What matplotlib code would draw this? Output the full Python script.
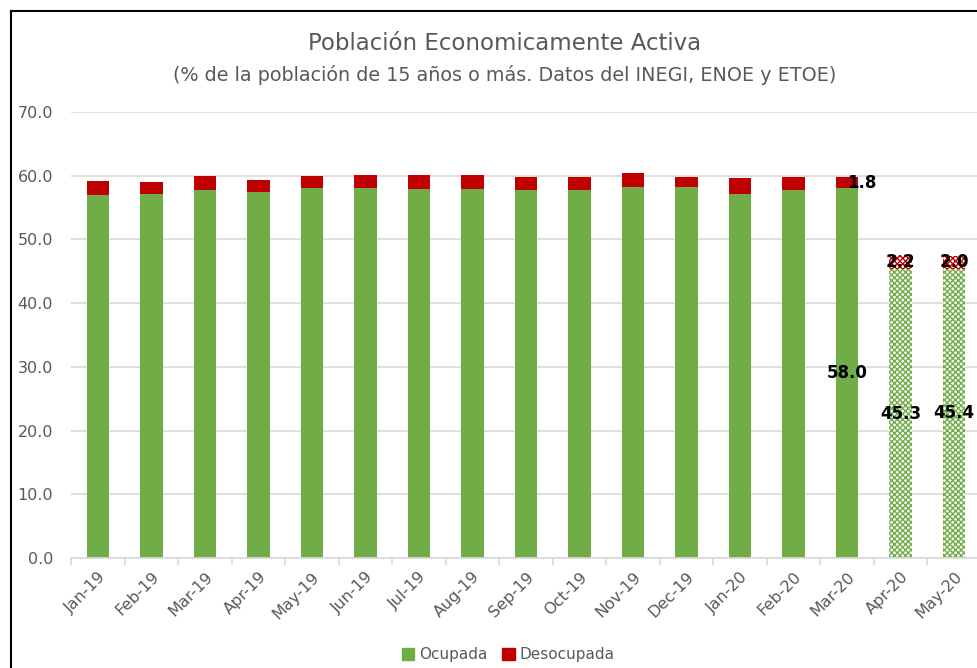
import numpy as np
import matplotlib.pyplot as plt
from matplotlib.lines import Line2D
from matplotlib.patches import Patch

# Datos (% de la poblacion de 15 anos o mas)
meses = ["Jan-19", "Feb-19", "Mar-19", "Apr-19", "May-19", "Jun-19", "Jul-19", "Aug-19",
         "Sep-19", "Oct-19", "Nov-19", "Dec-19", "Jan-20", "Feb-20", "Mar-20", "Apr-20", "May-20"]
ocupada = [57.0, 57.2, 57.7, 57.4, 58.0, 58.0, 57.9, 57.9, 57.7, 57.7, 58.2, 58.2,
           57.2, 57.7, 58.0, 45.3, 45.4]
desocupada = [2.1, 1.8, 2.2, 1.9, 1.9, 2.1, 2.2, 2.2, 2.1, 2.1, 2.2, 1.6,
              2.4, 2.1, 1.8, 2.2, 2.0]
etoe = [False] * 15 + [True, True]  # abril y mayo: ETOE (telefonica)

verde = "#70AD47"
rojo = "#C00000"
gris = "#595959"

fig = plt.figure(figsize=(9.77, 6.68), dpi=100)
ax = fig.add_axes([71 / 977, 1 - 558 / 668, 910 / 977, 446 / 668])

x = np.arange(len(meses))
w = 0.42
for i in x:
    if etoe[i]:
        ax.bar(i, ocupada[i], w, facecolor="white", edgecolor=verde, hatch="xxxxxx", linewidth=0, zorder=2)
        ax.bar(i, desocupada[i], w, bottom=ocupada[i], facecolor="white", edgecolor=rojo,
               hatch="xxxxxx", linewidth=0, zorder=2)
    else:
        ax.bar(i, ocupada[i], w, color=verde, zorder=2)
        ax.bar(i, desocupada[i], w, bottom=ocupada[i], color=rojo, zorder=2)

# etiquetas de datos solo para los ultimos tres meses
for i in [14, 15, 16]:
    ax.text(i, ocupada[i] / 2, f"{ocupada[i]:.1f}", ha="center", va="center",
            fontsize=12, fontweight="bold", color="black", zorder=3)
    dx = 0.28 if i == 14 else 0
    ax.text(i + dx, ocupada[i] + desocupada[i] / 2, f"{desocupada[i]:.1f}", ha="center", va="center",
            fontsize=12, fontweight="bold", color="black", zorder=3)

ax.set_xlim(-0.5, len(meses) - 0.5)
ax.set_ylim(0, 70)
ax.set_yticks(np.arange(0, 71, 10))
ax.set_yticklabels([f"{v:.1f}" for v in np.arange(0, 71, 10)])
ax.yaxis.grid(True, color="#D9D9D9", linewidth=1.2, zorder=0)
ax.set_axisbelow(True)
for s in ["top", "right", "left"]:
    ax.spines[s].set_visible(False)
ax.spines["bottom"].set_color("#D9D9D9")
ax.spines["bottom"].set_linewidth(1.2)
ax.tick_params(axis="y", length=0, pad=13, labelsize=11.5, labelcolor=gris)

ax.set_xticks(x)
ax.set_xticklabels(meses, rotation=45, ha="right", rotation_mode="anchor")
ax.tick_params(axis="x", which="major", length=0, pad=8, labelsize=11.5, labelcolor=gris)
ax.set_xticks(np.arange(-0.5, len(meses), 1), minor=True)
ax.tick_params(axis="x", which="minor", length=5, color="#D9D9D9", width=1.2)

fig.text(505 / 977, 1 - 43 / 668, "Población Economicamente Activa", ha="center", va="center",
         fontsize=16.5, color=gris)
fig.text(505 / 977, 1 - 75 / 668, "(% de la población de 15 años o más. Datos del INEGI, ENOE y ETOE)",
         ha="center", va="center", fontsize=13.8, color=gris)

handles = [Patch(color=verde, label="Ocupada"), Patch(color=rojo, label="Desocupada")]
fig.legend(handles=handles, loc="center", bbox_to_anchor=(508 / 977, 1 - 655 / 668), ncol=2,
           frameon=False, fontsize=11, labelcolor=gris, handlelength=0.8, handleheight=0.8,
           handletextpad=0.3, columnspacing=1.0)

# marco de la captura
fig.add_artist(Line2D([11 / 977, 1], [1 - 11 / 668, 1 - 11 / 668], color="black", linewidth=1.5))
fig.add_artist(Line2D([11 / 977, 11 / 977], [0, 1 - 11 / 668], color="black", linewidth=1.5))

fig.savefig("out.png", dpi=100)
